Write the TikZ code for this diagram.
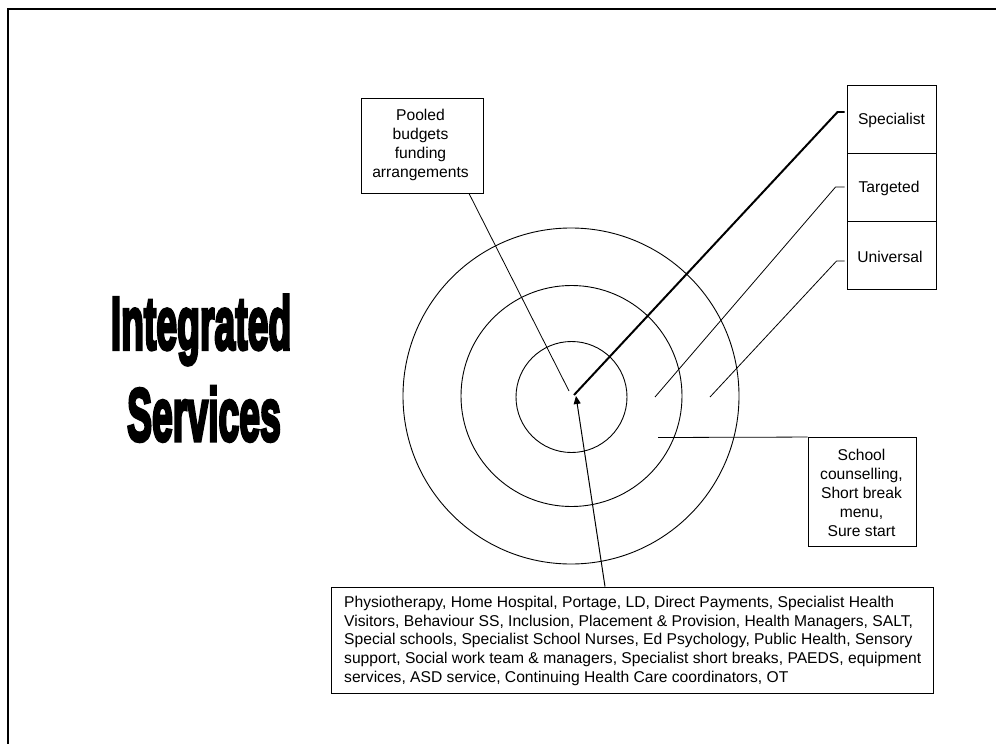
\documentclass[tikz,border=0pt]{standalone}
\usepackage{fontspec}
\setmainfont{Liberation Sans}
\newfontfamily\titlefont[FakeBold=5]{Liberation Sans Bold}
\usetikzlibrary{arrows.meta}
\tikzset{
  box/.style={draw=black,line width=0.9pt,fill=white,inner sep=0pt,align=center,font=\fontsize{15.7}{19}\selectfont},
  label/.style={font=\fontsize{15.7}{19}\selectfont,inner sep=0pt,align=center},
  ring/.style={draw=black,line width=0.9pt,circle,inner sep=0pt},
  leader/.style={draw=black,line width=0.8pt},
  heavy/.style={draw=black,line width=2pt},
  frameline/.style={draw=black,line width=2pt},
  titletext/.style={font=\titlefont\fontsize{50}{50}\selectfont,xscale=0.75,yscale=1.5,transform shape,inner sep=0pt}
}
\begin{document}
\begin{tikzpicture}[x=1bp,y=-1bp]
\useasboundingbox (0,0) rectangle (996,744);
\fill[white] (0,0) rectangle (996,744);
\draw[frameline] (8,744) -- (8,9) -- (996,9);
\node[ring,minimum size=336bp] (outer) at (571,396) {};
\node[ring,minimum size=221bp] (middle) at (571.5,396) {};
\node[ring,minimum size=111bp] (inner) at (571.5,397) {};
\coordinate (centre) at (574,395);
\coordinate (tzone) at (655,397);
\coordinate (uzone) at (710,397);
\coordinate (szone) at (658,437.5);
\coordinate (pzone) at (569,391);
\coordinate (azone) at (576,396);
\node[box,minimum width=89bp,minimum height=68bp] (spec) at (891.5,119) {};
\node[box,minimum width=89bp,minimum height=68bp] (targ) at (891.5,187) {};
\node[box,minimum width=89bp,minimum height=68bp] (univ) at (891.5,255) {};
\node[label] (spect) at (891.5,120) {Specialist};
\node[label] (targt) at (889,188) {Targeted};
\node[label] (univt) at (890,257) {Universal};
\node[box,minimum width=122bp,minimum height=95bp] (pool) at (422,145.5) {};
\node[label] (poolt) at (420.5,145) {Pooled\\budgets\\funding\\arrangements};
\node[box,minimum width=108bp,minimum height=109bp] (school) at (862,492) {};
\node[label] (schoolt) at (861.5,493) {School\\counselling,\\Short break\\menu,\\Sure start};
\node[box,minimum width=602bp,minimum height=106bp] (list) at (632,640) {};
\node[anchor=north west,inner sep=0pt,align=left,font=\fontsize{15.7}{18.8}\selectfont] (listt) at (344,596) {Physiotherapy, Home Hospital, Portage, LD, Direct Payments, Specialist Health\\Visitors, Behaviour SS, Inclusion, Placement \& Provision, Health Managers, SALT,\\Special schools, Specialist School Nurses, Ed Psychology, Public Health, Sensory\\support, Social work team \& managers, Specialist short breaks, PAEDS, equipment\\services, ASD service, Continuing Health Care coordinators, OT};
\draw[heavy] (spec.west) ++(-2,-7) -- ++(-7,0) -- (centre);
\draw[leader] (targ.west) ++(-2,0) -- ++(-9,0) -- (tzone);
\draw[leader] (univ.west) ++(-2,6) -- ++(-8,0) -- (uzone);
\draw[leader] (school.north west) -- (szone);
\draw[leader] (pool.south) ++(47,0) -- (pzone);
\draw[leader,line width=1pt,-{Triangle[length=8bp,width=7bp]}] (list.north) ++(-27,0) -- (azone);
\node[titletext] (t1) at (201,330) {Integrated};
\node[titletext] (t2) at (204,414) {Services};
\end{tikzpicture}
\end{document}
